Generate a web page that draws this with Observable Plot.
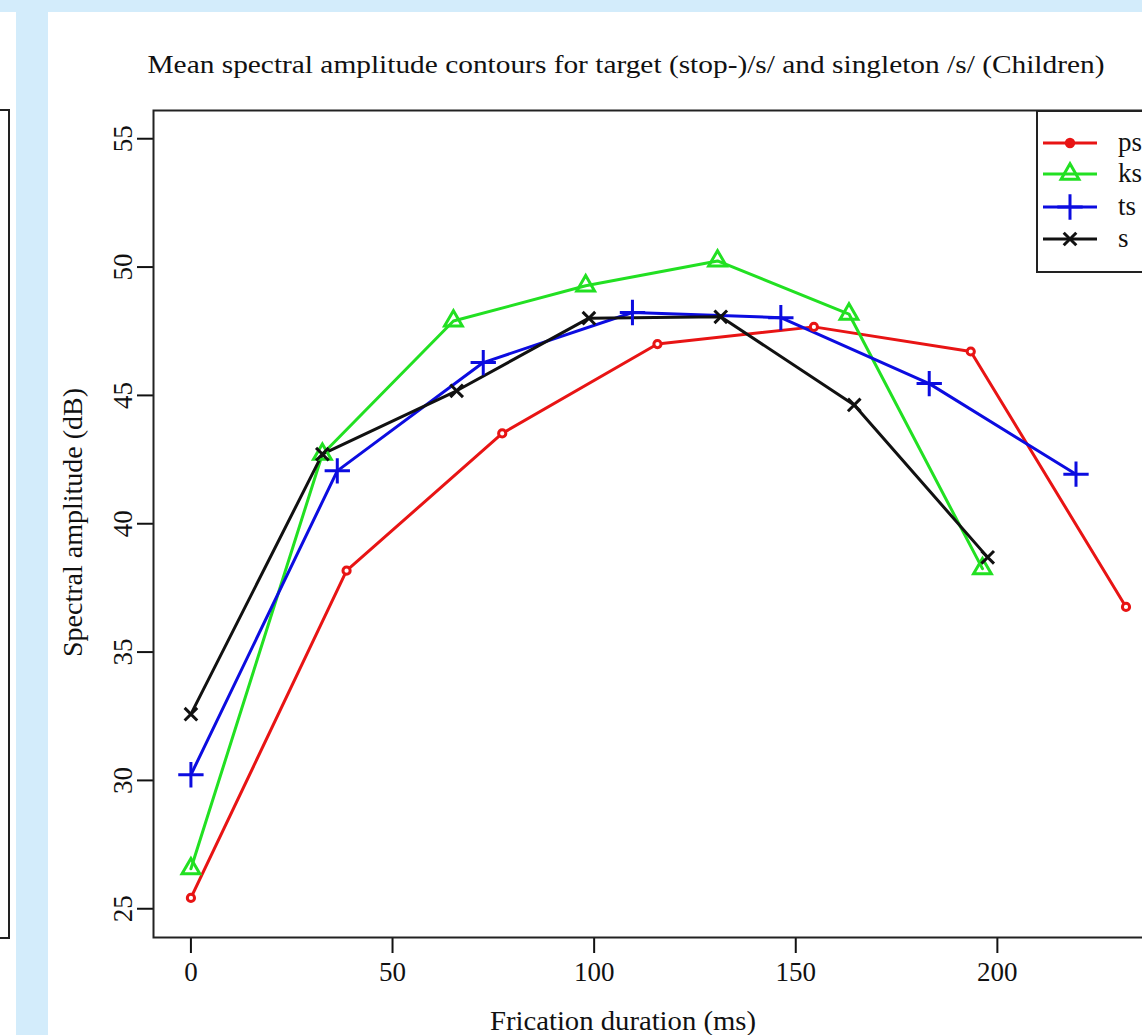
<!DOCTYPE html>
<html>
<head>
<meta charset="utf-8">
<script src="https://cdn.jsdelivr.net/npm/d3@7"></script>
<script src="https://cdn.jsdelivr.net/npm/@observablehq/plot@0.6"></script>
<style>
  html, body { margin: 0; padding: 0; width: 1142px; height: 1035px; overflow: hidden; background: #d3ecfb; }
  #leftpanel { position: absolute; left: 0; top: 12px; width: 16px; height: 1023px; background: #fff; overflow: hidden; }
  #leftframe { position: absolute; left: -20px; top: 97px; width: 26px; height: 826px; border: 2px solid #222; }
  #main { position: absolute; left: 48px; top: 12px; width: 1200px; height: 1023px; background: #fff; }
  #chart { position: absolute; left: 0; top: 0; }
  #overlay { position: absolute; left: 0; top: 0; pointer-events: none; }
  #legend { position: absolute; left: 988px; top: 98px; }
  text { font-family: 'Liberation Serif', 'Times New Roman', serif; }
</style>
</head>
<body>
<div id="leftpanel"><div id="leftframe"></div></div>
<div id="main">
  <div id="chart"></div>
  <svg id="overlay" width="1200" height="1023"></svg>
  <svg id="legend" width="160" height="164"></svg>
</div>
<script>
// ---- data ----
const seriesNames = ["ps", "ks", "ts", "s"];
const seriesColors = ["#e81414", "#22e022", "#0c0ce0", "#111111"];
const seriesSymbols = ["circle", "triangle", "plus", "times"];

const psTime = [0, 38.6, 77.2, 115.7, 154.5, 193.4, 231.9];
const psAmp  = [25.42, 38.17, 43.52, 47.0, 47.67, 46.71, 36.76];
const ksTime = [0, 32.6, 65.1, 97.9, 130.6, 163.2, 196.3];
const ksAmp  = [26.56, 42.71, 47.9, 49.27, 50.24, 48.17, 38.25];
const tsTime = [0, 36.3, 72.5, 109.5, 146.3, 183.1, 219.5];
const tsAmp  = [30.22, 42.06, 46.28, 48.23, 48.03, 45.46, 41.93];
const sTime  = [0, 32.6, 65.9, 98.7, 131.4, 164.5, 197.6];
const sAmp   = [32.58, 42.71, 45.18, 48.01, 48.06, 44.63, 38.69];

const xTicks = [0, 50, 100, 150, 200];
const yTicks = [25, 30, 35, 40, 45, 50, 55];

const titleText = "Mean spectral amplitude contours for target (stop-)/s/ and singleton /s/ (Children)";
const xLabel = "Frication duration (ms)";
const yLabel = "Spectral amplitude (dB)";

// ---- build table ----
const times = [psTime, ksTime, tsTime, sTime];
const amps = [psAmp, ksAmp, tsAmp, sAmp];
const rows = [];
seriesNames.forEach((name, i) => {
  times[i].forEach((t, j) => rows.push({series: name, time: t, amp: amps[i][j]}));
});

const symbolStyle = {
  ps: {r: 3.6, fill: "white", stroke: seriesColors[0]},
  ks: {r: 6.6, fill: "none", stroke: seriesColors[1]},
  ts: {r: 8.2, fill: "none", stroke: seriesColors[2]},
  s:  {r: 5.8, fill: "none", stroke: seriesColors[3]}
};

const lineMarks = seriesNames.map((name, i) =>
  Plot.line(rows.filter(d => d.series === name), {x: "time", y: "amp", stroke: seriesColors[i], strokeWidth: 3})
);
const dotMarks = seriesNames.map((name, i) =>
  Plot.dot(rows.filter(d => d.series === name), {
    x: "time", y: "amp", symbol: seriesSymbols[i],
    r: symbolStyle[name].r, fill: symbolStyle[name].fill, stroke: symbolStyle[name].stroke, strokeWidth: 3
  })
);

const chart = Plot.plot({
  width: 1160,
  height: 1023,
  marginLeft: 105,
  marginTop: 98,
  marginRight: 45,
  marginBottom: 98,
  style: {fontFamily: "'Liberation Serif', 'Times New Roman', serif", fontSize: "27px", color: "#111", background: "white", maxWidth: "none", overflow: "visible"},
  x: {domain: [-9.28, 241.2]},
  y: {domain: [23.88, 56.1]},
  marks: [
    Plot.axisX({ticks: xTicks, tickSize: 16, tickPadding: 8, strokeWidth: 2, label: null, tickFormat: d => String(d)}),
    Plot.axisY({ticks: yTicks, tickSize: 16, tickPadding: 6, tickRotate: -90, strokeWidth: 2, label: null, tickFormat: d => String(d)}),
    ...lineMarks,
    ...dotMarks,
    Plot.frame({stroke: "#222", strokeWidth: 2})
  ]
});
document.getElementById("chart").appendChild(chart);

// ---- title and axis titles (page coords minus main offset 48,12) ----
const ov = d3.select("#overlay");
ov.append("text").attr("x", 578).attr("y", 61).attr("text-anchor", "middle")
  .attr("font-size", 25).attr("fill", "#111")
  .attr("textLength", 957).attr("lengthAdjust", "spacingAndGlyphs").text(titleText);
ov.append("text").attr("x", 575).attr("y", 1018).attr("text-anchor", "middle")
  .attr("font-size", 27).attr("fill", "#111")
  .attr("textLength", 266).attr("lengthAdjust", "spacingAndGlyphs").text(xLabel);
ov.append("text").attr("transform", "translate(34,510.5) rotate(-90)").attr("text-anchor", "middle")
  .attr("font-size", 27).attr("fill", "#111")
  .attr("textLength", 269).attr("lengthAdjust", "spacingAndGlyphs").text(yLabel);

// ---- legend ----
const lg = d3.select("#legend");
lg.append("rect").attr("x", 1).attr("y", 1).attr("width", 126).attr("height", 161)
  .attr("fill", "white").attr("stroke", "#222").attr("stroke-width", 2);
const symMap = {circle: d3.symbolCircle, triangle: d3.symbolTriangle, plus: d3.symbolPlus, times: d3.symbolTimes};
const rowY = [33, 64, 97, 129];
seriesNames.forEach((name, i) => {
  const g = lg.append("g").attr("transform", `translate(0,${rowY[i]})`);
  g.append("line").attr("x1", 7).attr("x2", 61).attr("y1", 0).attr("y2", 0)
    .attr("stroke", seriesColors[i]).attr("stroke-width", 3);
  const st = symbolStyle[name];
  const rr = name === "ps" ? 5.2 : st.r;
  const fill = name === "ps" ? seriesColors[0] : "none";
  const stroke = name === "ps" ? "none" : st.stroke;
  g.append("path").attr("transform", "translate(34,0)")
    .attr("d", d3.symbol(symMap[seriesSymbols[i]], Math.PI * rr * rr)())
    .attr("fill", fill).attr("stroke", stroke).attr("stroke-width", 3);
  g.append("text").attr("x", 82).attr("y", 8).attr("font-size", 27).attr("fill", "#111").text(name);
});
</script>
</body>
</html>
